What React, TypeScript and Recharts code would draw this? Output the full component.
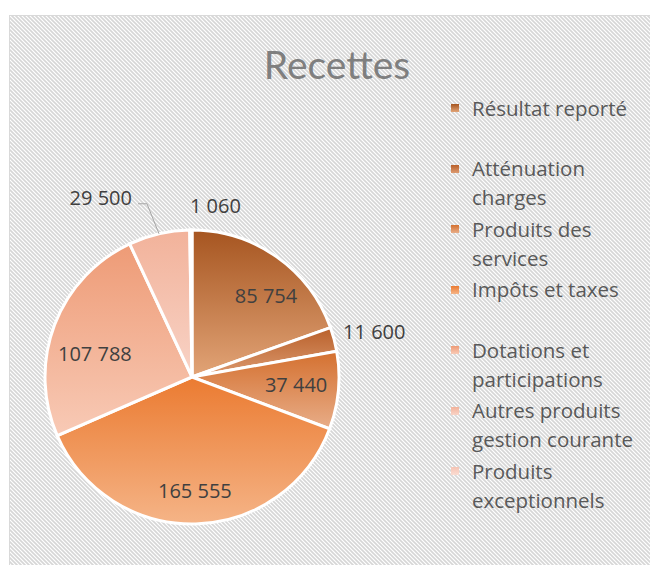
import { PieChart, Pie, Cell, Legend } from "recharts";

const categories = [
  "Résultat reporté",
  "Atténuation charges",
  "Produits des services",
  "Impôts et taxes",
  "Dotations et participations",
  "Autres produits gestion courante",
  "Produits exceptionnels",
];
const values = [85754, 11600, 37440, 165555, 107788, 29500, 1060];

// gradient stops per slice (top -> bottom)
const topColors = ["#a65520", "#b9602a", "#d4702f", "#eb7b31", "#ee9b76", "#f2b29a", "#f5c4b4"];
const bottomColors = ["#e2a477", "#dc9a70", "#e8ad88", "#f5b487", "#f8cab6", "#f8d3c6", "#fadcd2"];

// small nudges for inside labels: [angle shift in degrees, radius factor]
const insideLabelPos: Record<number, [number, number]> = {
  0: [7, 0.75],
  2: [-1, 0.71],
  3: [0, 0.77],
  4: [-7, 0.68],
};

const FONT = "'Open Sans', sans-serif";
const TITLE_FONT = "Lato, sans-serif";
const RAD = Math.PI / 180;

const data = categories.map((name, i) => ({ name, value: values[i] }));

const fmt = (v: number) => String(v).replace(/\B(?=(\d{3})+(?!\d))/g, " ");

function renderLabel(p: any) {
  const { cx, cy, midAngle, outerRadius, index, value } = p;
  const cos = Math.cos(-midAngle * RAD);
  const sin = Math.sin(-midAngle * RAD);
  const ex = cx + outerRadius * cos;
  const ey = cy + outerRadius * sin;
  const txt = { fontFamily: FONT, fontSize: 20, fill: "#404040" };

  if (index === 1) {
    return (
      <text x={ex + 9} y={ey - 8} textAnchor="start" dominantBaseline="central" style={txt}>
        {fmt(value)}
      </text>
    );
  }
  if (index === 6) {
    return (
      <text x={ex - 1} y={ey - 25} textAnchor="start" dominantBaseline="central" style={txt}>
        {fmt(value)}
      </text>
    );
  }
  if (index === 5) {
    return (
      <g>
        <polyline
          points={`${ex},${ey} ${ex - 12},${ey - 30} ${ex - 21},${ey - 30}`}
          fill="none"
          stroke="#a6a6a6"
          strokeWidth={1}
        />
        <text x={ex - 27} y={ey - 36} textAnchor="end" dominantBaseline="central" style={txt}>
          {fmt(value)}
        </text>
      </g>
    );
  }
  const [shift, k] = insideLabelPos[index] || [0, 0.74];
  const a = (midAngle - shift) * RAD;
  const r = outerRadius * k;
  return (
    <text
      x={cx + r * Math.cos(-a)}
      y={cy + r * Math.sin(-a)}
      textAnchor="middle"
      dominantBaseline="central"
      style={txt}
    >
      {fmt(value)}
    </text>
  );
}

function LegendContent() {
  return (
    <div style={{ fontFamily: FONT, fontSize: 20.5, color: "#595959" }}>
      {categories.map((name, i) => (
        <div key={name} style={{ position: "relative", height: 60.5 }}>
          <svg width={8} height={8} style={{ position: "absolute", left: 4, top: 10.5 }}>
            <rect width={8} height={8} fill={`url(#lg${i})`} />
          </svg>
          <div style={{ position: "absolute", left: 25, top: 0, width: 172, lineHeight: "29px" }}>
            {name}
          </div>
        </div>
      ))}
    </div>
  );
}

function Background() {
  return (
    <svg width={650} height={565} style={{ position: "absolute", left: 0, top: 0 }}>
      <defs>
        <pattern id="stripes" width={4} height={4} patternUnits="userSpaceOnUse">
          <rect width={4} height={4} fill="#ffffff" />
          <path d="M-1,-1 L5,5 M3,-1 L5,1 M-1,3 L1,5" stroke="#d6d6d6" strokeWidth={1.6} />
        </pattern>
      </defs>
      <rect x={9.5} y={15.5} width={660} height={600} fill="url(#stripes)" stroke="#d9d9d9" />
    </svg>
  );
}

export default function App() {
  return (
    <div style={{ position: "absolute", left: 0, top: 0, width: 650, height: 565, background: "#fff" }}>
      <Background />
      <div
        style={{
          position: "absolute",
          left: 0,
          width: 674,
          top: 38,
          textAlign: "center",
          fontFamily: TITLE_FONT,
          fontSize: 39,
          lineHeight: "52px",
          color: "#7f7f7f",
        }}
      >
        Recettes
      </div>
      <div style={{ position: "absolute", left: 0, top: 0 }}>
        <PieChart width={650} height={565} margin={{ top: 0, right: 0, bottom: 0, left: 0 }}>
          <defs>
            {topColors.map((c, i) => (
              <linearGradient key={`g${i}`} id={`g${i}`} x1="0" y1="0" x2="0" y2="1">
                <stop offset="0%" stopColor={c} />
                <stop offset="100%" stopColor={bottomColors[i]} />
              </linearGradient>
            ))}
            {topColors.map((c, i) => (
              <linearGradient key={`lg${i}`} id={`lg${i}`} x1="0" y1="0" x2="0" y2="1">
                <stop offset="0%" stopColor={c} />
                <stop offset="100%" stopColor={bottomColors[i]} />
              </linearGradient>
            ))}
          </defs>
          <Pie
            data={data}
            dataKey="value"
            nameKey="name"
            cx={192}
            cy={377}
            outerRadius={147}
            startAngle={90}
            endAngle={-270}
            stroke="#ffffff"
            strokeWidth={3}
            label={renderLabel}
            labelLine={false}
            isAnimationActive={false}
          >
            {data.map((d, i) => (
              <Cell key={d.name} fill={`url(#g${i})`} />
            ))}
          </Pie>
          <Legend
            layout="vertical"
            align="right"
            verticalAlign="top"
            content={<LegendContent />}
            wrapperStyle={{ left: 447, top: 93.5, width: 200, right: "auto" }}
          />
        </PieChart>
      </div>
    </div>
  );
}
